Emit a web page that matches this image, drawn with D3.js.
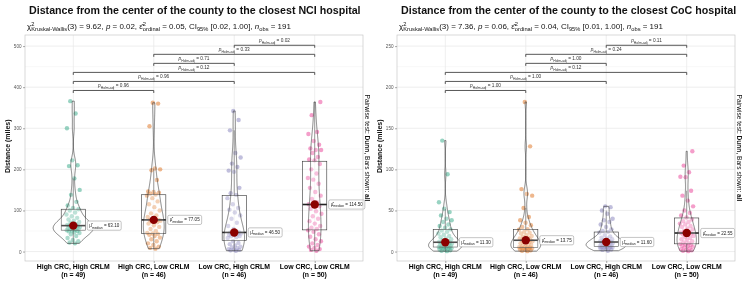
<!DOCTYPE html>
<html><head><meta charset="utf-8">
<script src="https://cdn.jsdelivr.net/npm/d3@7"></script>
<style>
body{margin:0;background:#fff}
svg{display:block;will-change:transform}
svg text{white-space:pre;font-family:'Liberation Sans',Arial,Helvetica,sans-serif;fill:#111}
</style>
</head><body>
<svg id="c" width="750" height="292"></svg>
<script>
// ---------------- DATA ----------------
const categories = ["High CRC, High CRLM","High CRC, Low CRLM","Low CRC, High CRLM","Low CRC, Low CRLM"];
const groupN = [49,46,46,50];
const colors = ["#1B9E77","#D95F02","#7570B3","#E7298A"];
const pairs = [[0,1],[0,2],[0,3],[1,2],[1,3],[2,3]];

// Left chart: distance to closest NCI hospital (miles)
const nciTitle = "Distance from the center of the county to the closest NCI hospital";
const nciStats = {chi:"9.62", p:"0.02", eps:"0.05", ciLow:"0.02"};
const nciG1 = [20,22,25,28,33,38,42,45,47,49,50,51,52,53,54,55,56,57,58,59,60,61,62,62.5,63.1,65,67,70,72,75,78,82,86,90,95,100,103,106,112,121,138,150,178,208,210,222,300,336,366];
const nciG2 = [7,9,12,16,20,25,30,34,38,41,43,44,45.5,50,55,60,64,68,71,73,75,76,77,77.1,80,84,88,93,100,108,115,122,130,136,139,141,143,145,146,174,198,200,202,305,360,362];
const nciG3 = [2,3,4,5,6,8,10,12,15,18,21,25,33,35,37,38,40,41,42,43,44,45,46,47,55,62,70,80,88,95,102,106,115,130,138,142,155,194,197,206,214,229,240,295,320,342];
const nciG4 = [2,4,6,9,12,16,20,25,30,36,42,48,52,55,58,62,68,74,80,86,92,98,104,110,114,115,120,128,136,145,155,165,175,179,190,200,213,222,224,230,240,247,247,251,260,269,286,291,332,364];
const nciMedians = [63.10,77.05,46.50,114.50];
const nciTicks = [0,100,200,300,400,500];
const nciPvals = ["0.96","0.96","0.12","0.71","0.33","0.02"];
const nciBarY = [392,414,436,458,480,502];

// Right chart: distance to closest CoC hospital (miles)
const cocTitle = "Distance from the center of the county to the closest CoC hospital";
const cocStats = {chi:"7.36", p:"0.06", eps:"0.04", ciLow:"0.01"};
const cocG1 = [0.5,1,1.5,2,2.5,3,3.5,4,4.5,5,5,5.3,5.5,6,6.5,7,7.5,8,8.5,9,9.5,10,10.5,11,11.3,12,13,14,15,16,17.5,19,20.5,22,24,25.5,27,29,31,33,36,38,40,44,48,52,60,94,135];
const cocG2 = [0.5,1,1.5,2,2.5,3,3.5,4,4.5,4.8,4.9,5,5.2,6,7,8,9,10,11,12,12.5,13,13.5,14,15,16,17,18,19,20,22,23,24,26.5,27.2,30,32,35,38,42,53,68,70,76,128,182];
const cocG3 = [1,2,2.5,3,3.5,4,4.5,5,5.2,5.5,5.8,6,6.2,7,7.5,8,8.5,9,9.5,10,10.5,11,11.4,11.8,12,12.5,13,14,15,16,17,18.5,20,23,24,25,27,30,33,36,38,40,46,50,54,55];
const cocG4 = [0.5,1,1.5,2,3,4,5,6,6.5,7,8,8.5,9.2,10,11,12.5,14,15,16.5,18,19,20,21,21.8,22.3,22.8,24,25,27,28,30,31,33,34,36,37,39,41.5,44,47,50,55,62,68,74,90.5,91,96.5,104.6,122];
const cocMedians = [11.30,13.75,11.60,22.55];
const cocTicks = [0,50,100,150,200,250];
const cocPvals = ["1.00","1.00","0.12","1.00","0.24","0.11"];
const cocBarY = [196,207,218,229,240,251];

// ---------------- HELPERS ----------------
const svg = d3.select("#c");

function rich(parent, segs, size, opts={}) {
  const g = parent.append("g");
  let x = 0;
  for (const s of segs) {
    if (s.stack) {
      const fs = size*0.72;
      const a = g.append("text").attr("x",x).attr("y",-size*0.42).attr("font-size",fs).text(s.stack[0]);
      const b = g.append("text").attr("x",x).attr("y",size*0.3).attr("font-size",fs).text(s.stack[1]);
      x += Math.max(a.node().getComputedTextLength(), b.node().getComputedTextLength());
    } else if (s.sub !== undefined) {
      const t = g.append("text").attr("x",x).attr("y",size*0.3).attr("font-size",size*0.72).text(s.sub);
      x += t.node().getComputedTextLength();
    } else {
      const t = g.append("text").attr("x",x).attr("font-size",size).text(s.t);
      if (s.it) t.attr("font-style","italic");
      if (s.b) t.attr("font-weight","bold");
      x += t.node().getComputedTextLength();
    }
  }
  if (opts.bold) g.selectAll("text").attr("font-weight","bold");
  if (opts.fill) g.selectAll("text").style("fill", opts.fill);
  return {g, w:x};
}
function sizeFor(segs, target, opts={}) {
  const base = 10;
  const r = rich(svg, segs, base, opts);
  const w = r.w; r.g.remove();
  return base*target/w;
}

function kde(vals, n=256) {
  const v = vals.slice().sort(d3.ascending);
  const N = v.length;
  const sd = d3.deviation(v);
  const iqr = d3.quantile(v,.75)-d3.quantile(v,.25);
  const lo = Math.min(sd, iqr/1.34) || sd;
  const h = 0.9*lo*Math.pow(N,-0.2);
  const mn = v[0], mx = v[N-1];
  const out = [];
  for (let i=0;i<n;i++) {
    const t = mn+(mx-mn)*i/(n-1);
    let s = 0;
    for (const xi of v) { const z=(t-xi)/h; s += Math.exp(-0.5*z*z); }
    out.push([t, s/(N*h*Math.sqrt(2*Math.PI))]);
  }
  return out;
}

function subtitleSegs(st) {
  return [
    {t:"χ"},{stack:["2","Kruskal-Wallis"]},{t:"(3) = "+st.chi+", "},{t:"p",it:1},{t:" = "+st.p+", "},
    {t:"ε̂"},{stack:["2","ordinal"]},{t:" = "+st.eps+", CI"},{sub:"95%"},{t:" ["+st.ciLow+", 1.00], "},
    {t:"n",it:1},{sub:"obs"},{t:" = 191"}
  ];
}

// font sizes fitted to the reference text widths
const titleSize = sizeFor([{t:nciTitle}], 307, {bold:1});
const subSize = sizeFor(subtitleSegs(nciStats), 264);
const xlabSize = sizeFor([{t:categories[0]}], 70.5, {bold:1});
const barLabSize = sizeFor([{t:"p",it:1},{sub:"Holm-adj"},{t:" = 0.96"}], 31);
const medLabSize = sizeFor([{t:"μ̂"},{sub:"median"},{t:" = 63.10"}], 30);
const rTitleSize = sizeFor([{t:"Pairwise test: "},{t:"Dunn",b:1},{t:", Bars shown: "},{t:"all",b:1}], 107);
const yTitleSize = sizeFor([{t:"Distance (miles)"}], 50, {bold:1});

// ---------------- PANEL ----------------
function panel(cfg) {
  const ox = cfg.ox;
  const g = svg.append("g");
  const left = ox+25, right = ox+363, top = 35, bottom = 261;
  const x = d3.scalePoint().domain(categories).range([left,right]).padding(0.6);
  const y = d3.scaleLinear().domain(cfg.ydom).range([bottom, top]);
  const step = x.step();

  // title / subtitle
  const tt = rich(g, [{t:cfg.title}], titleSize, {bold:1});
  tt.g.attr("transform", `translate(${left+4},14)`);
  const st = rich(g, subtitleSegs(cfg.stats), subSize);
  st.g.attr("transform", `translate(${left+2},29)`);

  // grid
  const half = (cfg.ticks[1]-cfg.ticks[0])/2;
  const minor = cfg.ticks.map(t=>t+half).filter(t=>t<cfg.ydom[1]);
  g.append("g").selectAll("line").data(minor).join("line")
    .attr("x1",left).attr("x2",right).attr("y1",d=>y(d)).attr("y2",d=>y(d))
    .attr("stroke","#F3F3F3").attr("stroke-width",0.5);
  g.append("g").selectAll("line").data(cfg.ticks).join("line")
    .attr("x1",left).attr("x2",right).attr("y1",d=>y(d)).attr("y2",d=>y(d))
    .attr("stroke","#E6E6E6").attr("stroke-width",0.7);
  g.append("g").selectAll("line").data(categories).join("line")
    .attr("x1",d=>x(d)).attr("x2",d=>x(d)).attr("y1",top).attr("y2",bottom)
    .attr("stroke","#E6E6E6").attr("stroke-width",0.7);

  // densities
  const dens = cfg.groups.map(v=>kde(v));
  const maxD = d3.max(dens, d=>d3.max(d, e=>e[1]));
  const halfMax = 0.25*step;

  cfg.groups.forEach((vals,gi)=>{
    const cx = x(categories[gi]);
    // jittered points
    g.append("g").selectAll("circle").data(vals).join("circle")
      .attr("cx",(d,i)=>cx + ((((i+1)*0.618034)%1)-0.5)*14)
      .attr("cy",d=>y(d)).attr("r",2.2)
      .attr("fill",colors[gi]).attr("fill-opacity",0.45);
    // box plot
    const s = vals.slice().sort(d3.ascending);
    const q1 = d3.quantile(s,.25), q3 = d3.quantile(s,.75), md = d3.quantile(s,.5);
    const iqr = q3-q1;
    const wHi = d3.max(s.filter(v=>v<=q3+1.5*iqr));
    const wLo = d3.min(s.filter(v=>v>=q1-1.5*iqr));
    const bw = 0.3*step;
    g.append("line").attr("x1",cx).attr("x2",cx).attr("y1",y(q3)).attr("y2",y(wHi)).attr("stroke","#333").attr("stroke-width",0.6);
    g.append("line").attr("x1",cx).attr("x2",cx).attr("y1",y(q1)).attr("y2",y(wLo)).attr("stroke","#333").attr("stroke-width",0.6);
    g.append("rect").attr("x",cx-bw/2).attr("width",bw).attr("y",y(q3)).attr("height",y(q1)-y(q3))
      .attr("fill","#fff").attr("fill-opacity",0.2).attr("stroke","#333").attr("stroke-width",0.6);
    g.append("line").attr("x1",cx-bw/2).attr("x2",cx+bw/2).attr("y1",y(md)).attr("y2",y(md)).attr("stroke","#222").attr("stroke-width",1.6);
    // violin
    const area = d3.area().y(d=>y(d[0])).x0(d=>cx-d[1]/maxD*halfMax).x1(d=>cx+d[1]/maxD*halfMax);
    g.append("path").attr("d",area(dens[gi])).attr("fill","#fff").attr("fill-opacity",0.2)
      .attr("stroke","#333").attr("stroke-width",0.6);
  });

  // centrality points + labels
  cfg.medians.forEach((m,gi)=>{
    const cx = x(categories[gi]), ym = y(m);
    g.append("circle").attr("cx",cx).attr("cy",ym).attr("r",4.2).attr("fill","#8B0000");
    const lg = g.append("g");
    const r = rich(lg, [{t:"μ̂"},{sub:"median"},{t:" = "+m.toFixed(2)}], medLabSize, {fill:"#222"});
    const bx = cx+14;
    lg.insert("rect","g").attr("x",bx).attr("y",ym-4.6).attr("width",r.w+4).attr("height",9.2)
      .attr("rx",1.5).attr("fill","#fff").attr("stroke","#8a8a8a").attr("stroke-width",0.5);
    r.g.attr("transform",`translate(${bx+2},${ym+1.6})`);
  });

  // pairwise brackets
  pairs.forEach((p,i)=>{
    const x1 = x(categories[p[0]]), x2 = x(categories[p[1]]), yb = y(cfg.barY[i]);
    g.append("path").attr("d",`M${x1},${yb+2.5}V${yb}H${x2}V${yb+2.5}`)
      .attr("fill","none").attr("stroke","#444").attr("stroke-width",0.9);
    const r = rich(g, [{t:"p",it:1},{sub:"Holm-adj"},{t:" = "+cfg.pvals[i]}], barLabSize, {fill:"#333"});
    r.g.attr("transform",`translate(${(x1+x2)/2-r.w/2},${yb-3})`);
  });

  // panel border
  g.append("rect").attr("x",left).attr("y",top).attr("width",right-left).attr("height",bottom-top)
    .attr("fill","none").attr("stroke","#C8C8C8").attr("stroke-width",0.7);

  // y axis
  const ya = g.append("g").attr("transform",`translate(${left},0)`)
    .call(d3.axisLeft(y).tickValues(cfg.ticks).tickSize(2).tickPadding(1.5));
  ya.select(".domain").remove();
  ya.selectAll("line").attr("stroke","#555").attr("stroke-width",0.5);
  ya.selectAll("text").attr("font-size",4.6).style("fill","#555").attr("font-family",null);

  // x axis
  const xa = g.append("g").attr("transform",`translate(0,${bottom})`)
    .call(d3.axisBottom(x).tickSize(2).tickFormat(""));
  xa.select(".domain").remove();
  xa.selectAll("line").attr("stroke","#555").attr("stroke-width",0.5);
  categories.forEach((c,gi)=>{
    g.append("text").attr("x",x(c)).attr("y",269).attr("text-anchor","middle")
      .attr("font-size",xlabSize).attr("font-weight","bold").style("fill","#000").text(c);
    g.append("text").attr("x",x(c)).attr("y",276.5).attr("text-anchor","middle")
      .attr("font-size",xlabSize).attr("font-weight","bold").style("fill","#000").text(`(n = ${groupN[gi]})`);
  });

  // y axis title
  const yt = g.append("g").attr("transform",`translate(${ox+10},148) rotate(-90)`);
  const ytr = rich(yt, [{t:"Distance (miles)"}], yTitleSize, {bold:1});
  ytr.g.attr("transform",`translate(${-ytr.w/2},0)`);

  // right (secondary) title
  const rt = g.append("g").attr("transform",`translate(${ox+365},148) rotate(90)`);
  const rtr = rich(rt, [{t:"Pairwise test: "},{t:"Dunn",b:1},{t:", Bars shown: "},{t:"all",b:1}], rTitleSize);
  rtr.g.attr("transform",`translate(${-rtr.w/2},0)`);
}

panel({ox:0, title:nciTitle, stats:nciStats, groups:[nciG1,nciG2,nciG3,nciG4], medians:nciMedians,
  ticks:nciTicks, ydom:[-23,527], pvals:nciPvals, barY:nciBarY});
panel({ox:372, title:cocTitle, stats:cocStats, groups:[cocG1,cocG2,cocG3,cocG4], medians:cocMedians,
  ticks:cocTicks, ydom:[-11.5,263.5], pvals:cocPvals, barY:cocBarY});
</script>
</body></html>
